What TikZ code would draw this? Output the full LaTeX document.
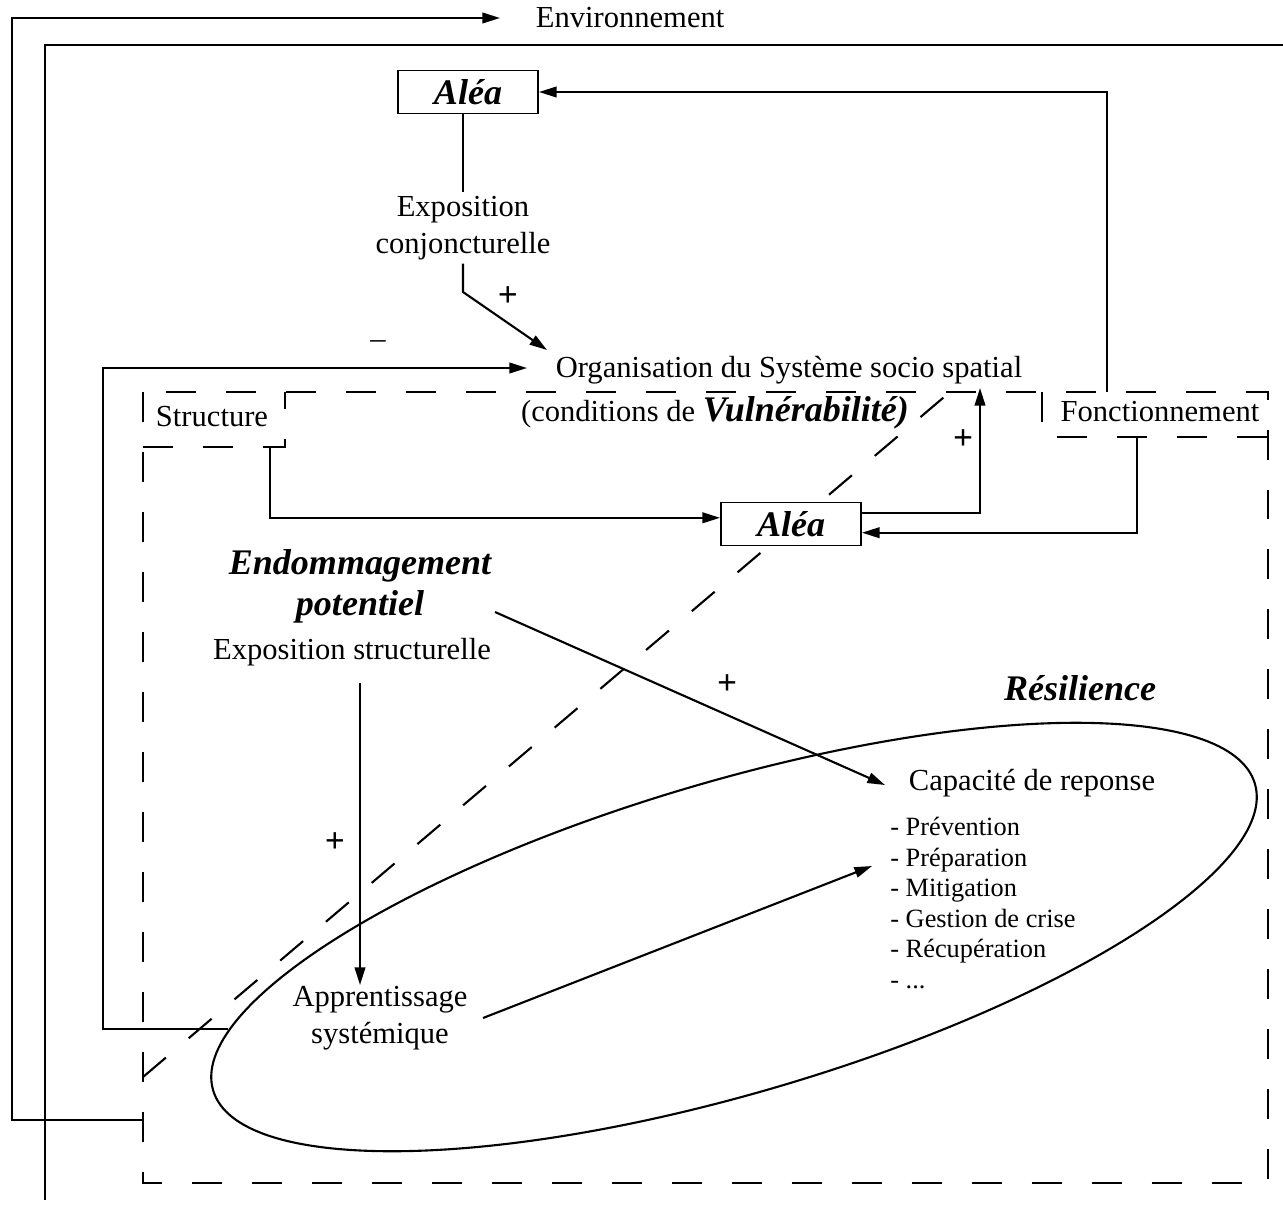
\documentclass[tikz,border=0pt]{standalone}
\usepackage{fontspec}
\setmainfont{Liberation Serif}
\usetikzlibrary{arrows.meta}

\begin{document}
\begin{tikzpicture}[x=0.02cm, y=-0.02cm,
  txt/.style={font=\fontsize{17.4}{21}\selectfont, inner sep=2pt},
  bitxt/.style={font=\fontsize{20.5}{23.3}\selectfont\bfseries\itshape, inner sep=2pt},
  listtxt/.style={font=\fontsize{15}{17.4}\selectfont, inner sep=0pt},
  alea/.style={draw, fill=white, line width=1.1pt, minimum width=2.8cm, minimum height=0.86cm,
    font=\fontsize{20.5}{23}\selectfont\bfseries\itshape},
  pm/.style={font=\fontsize{20}{20}\selectfont\bfseries, inner sep=0pt},
  ln/.style={line width=1.2pt},
  arr/.style={line width=1.2pt, -{Triangle[length=10pt,width=6pt]}},
  dashln/.style={line width=1.2pt, dash pattern=on 0.6cm off 0.6cm}]
\useasboundingbox (0,0) rectangle (1283,1210);

% cadres en tirets
\draw[dashln] (143,392) rectangle (1268,1183);
\draw[dashln] (143,447) -| (285,392);
\draw[dashln] (1042,392) |- (1268,437);
\draw[dashln] (143,1077) -- (950,392);

\node[txt, anchor=west] (env) at (532,18) {Environnement};
\node[alea] (alea1) at (468,92) {Aléa};
\node[txt, align=center] (expoc) at (463,228) {Exposition\\conjoncturelle};
\node[txt] (orga) at (789,370) {Organisation du Système socio spatial};
\node[txt] (cond) at (715,413)
  {(conditions de {\fontsize{20.5}{21}\selectfont\bfseries\itshape Vulnérabilité)}};
\node[txt] (struct) at (212,417) {Structure};
\node[txt] (fonct) at (1160,412) {Fonctionnement};
\node[alea] (alea2) at (791,524) {Aléa};
\node[bitxt, align=center] (endo) at (360,586) {Endommagement\\potentiel};
\node[txt] (expos) at (352,652) {Exposition structurelle};
\node[bitxt] (resil) at (1080,688) {Résilience};
\node[txt] (capa) at (1032,783) {Capacité de reponse};
\node[listtxt, anchor=north west, align=left] (liste) at (890,817)
  {- Prévention\\- Préparation\\- Mitigation\\- Gestion de crise\\- Récupération\\- ...};
\node[txt, align=center] (appr) at (380,1018) {Apprentissage\\systémique};

\node[pm] (p1) at (508,297) {+};
\node[pm] (p2) at (963,440) {+};
\node[pm] (p3) at (727,685) {+};
\node[pm] (p4) at (335,843) {+};
\node[txt, inner sep=0pt] (m1) at (378,345) {--};

% points libres
\coordinate (k1) at (463,292);
\coordinate (orgaIn) at (547,350);
\coordinate (orgaW) at (527,368);
\coordinate (orgaUp) at (980,388);
\coordinate (fbX) at (103,1029);
\coordinate (ellW) at (228,1029);
\coordinate (envS) at (143,1120);
\coordinate (envX) at (12,1120);
\coordinate (envE) at (500,18);
\coordinate (outS) at (45,1200);
\coordinate (outE) at (1283,45);
\coordinate (fonT) at (1107,392);
\coordinate (fonB) at (1137,437);
\coordinate (strB) at (270,447);
\coordinate (endoOut) at (495,612);
\coordinate (capaIn) at (885,785);
\coordinate (exS) at (360,683);
\coordinate (apN) at (360,985);
\coordinate (apE) at (483,1018);
\coordinate (listeIn) at (872,866);

% resilience
\draw[ln, rotate around={16.4:(734,937)}] (734,937) ellipse (543 and 156);

\draw[arr] (envS) -- (envX) |- (envE);
\draw[ln] (outS) |- (outE);
\draw[arr] (fonT) |- (alea1.east);
\draw[ln] (alea1.south -| expoc.north) -- (expoc.north);
\draw[arr] (expoc.south) -- (k1) -- (orgaIn);
\draw[arr] (ellW) -- (fbX) |- (orgaW);
\draw[arr] (strB) |- (alea2.175);
\draw[arr] (alea2.9) -| (orgaUp);
\draw[arr] (fonB) |- (alea2.-7);
\draw[arr] (endoOut) -- (capaIn);
\draw[arr] (exS) -- (apN);
\draw[arr] (apE) -- (listeIn);
\end{tikzpicture}
\end{document}
